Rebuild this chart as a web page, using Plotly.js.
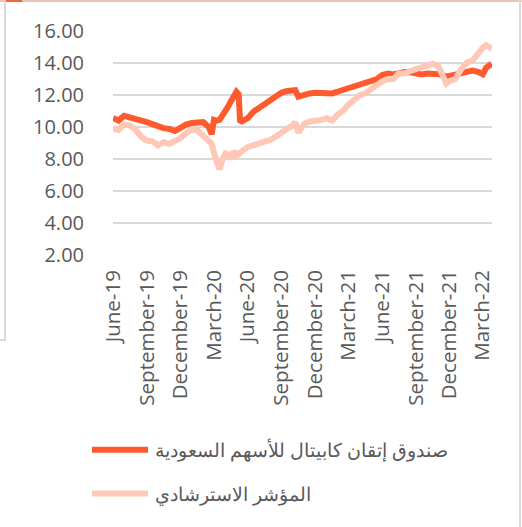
<!DOCTYPE html>
<html><head><meta charset="utf-8">
<script src="https://cdn.plot.ly/plotly-3.0.1.min.js"></script>
<style>
html,body{margin:0;padding:0;background:#fff;}
#wrap{position:relative;width:522px;height:527px;overflow:hidden;}
#chart{width:522px;height:527px;}
.deco{position:absolute;}
</style></head><body>
<div id="wrap"><div id="chart"></div>
<div class="deco" style="left:0;top:0;width:522px;height:2px;background:#E8C3BA"></div>
<div class="deco" style="left:6px;top:0;width:16px;height:2px;background:#F0643C"></div>
<div class="deco" style="left:4px;top:2px;width:2px;height:338px;background:#DADADA"></div>
<div class="deco" style="left:0;top:339px;width:6px;height:2px;background:#DADADA"></div>
<div class="deco" style="left:519px;top:0;width:2px;height:527px;background:#DADADA"></div>
</div>
<script>
const dates = ['2019-06-01','2019-06-16','2019-07-01','2019-07-16','2019-08-01','2019-08-16','2019-09-01','2019-09-16',
'2019-10-01','2019-10-16','2019-11-01','2019-11-16','2019-12-01','2019-12-16','2020-01-01','2020-01-16','2020-02-01',
'2020-02-16','2020-02-24','2020-03-01','2020-03-08','2020-03-16','2020-03-24','2020-04-01','2020-04-08','2020-04-16',
'2020-04-24','2020-05-01','2020-05-07','2020-05-11','2020-05-16','2020-06-01','2020-06-16','2020-07-01','2020-07-16',
'2020-08-01','2020-08-16','2020-09-01','2020-09-16','2020-10-01','2020-10-08','2020-10-16','2020-11-01','2020-11-16',
'2020-12-01','2020-12-16','2021-01-01','2021-01-16','2021-02-01','2021-02-16','2021-03-01','2021-03-16','2021-04-01',
'2021-04-16','2021-05-01','2021-05-16','2021-06-01','2021-06-16','2021-07-01','2021-07-16','2021-08-01','2021-08-16',
'2021-09-01','2021-09-16','2021-10-01','2021-10-16','2021-11-01','2021-11-16','2021-11-22','2021-12-01','2021-12-16',
'2022-01-01','2022-01-16','2022-02-01','2022-02-16','2022-03-01','2022-03-10','2022-03-20','2022-03-25'];

const fundValues = [10.56,10.40,10.70,10.62,10.52,10.40,10.30,10.18,
10.02,9.93,9.88,9.75,9.95,10.15,10.25,10.30,10.30,
10.00,9.55,10.45,10.40,10.45,10.70,11.05,11.25,11.60,
11.95,12.20,12.05,10.40,10.35,10.55,10.95,11.20,11.40,
11.65,11.95,12.15,12.25,12.30,12.30,11.90,12.05,12.10,
12.14,12.14,12.18,12.10,12.22,12.33,12.38,12.50,12.65,
12.77,12.82,12.98,13.25,13.34,13.28,13.40,13.44,13.42,
13.34,13.28,13.34,13.34,13.30,13.20,13.15,13.20,13.30,
13.40,13.48,13.53,13.45,13.30,13.70,13.90,13.95];

const benchValues = [9.91,9.82,10.15,10.10,9.85,9.40,9.15,9.10,
8.85,9.05,8.95,9.10,9.30,9.60,9.85,9.80,9.45,
9.10,8.95,8.40,7.75,7.35,7.95,8.35,8.30,8.00,
8.50,8.20,8.30,8.35,8.50,8.75,8.85,8.98,9.10,
9.20,9.40,9.70,9.90,10.10,10.30,9.65,10.20,10.35,
10.37,10.43,10.55,10.40,10.80,11.05,11.40,11.75,11.99,
12.10,12.33,12.65,12.85,13.00,13.00,13.35,13.36,13.50,
13.60,13.68,13.78,13.95,13.78,13.15,12.72,12.88,13.00,
13.60,14.02,14.15,14.60,14.95,15.10,15.00,14.90];

const tickDates = ['2019-06-01','2019-09-01','2019-12-01','2020-03-01','2020-06-01','2020-09-01',
'2020-12-01','2021-03-01','2021-06-01','2021-09-01','2021-12-01','2022-03-01'];
const tickLabels = ['June-19','September-19','December-19','March-20','June-20','September-20',
'December-20','March-21','June-21','September-21','December-21','March-22'];
const yTicks = [2,4,6,8,10,12,14,16];
const yTickLabels = ['2.00','4.00','6.00','8.00','10.00','12.00','14.00','16.00'];
const fundName = 'صندوق إتقان كابيتال للأسهم السعودية';
const benchName = 'المؤشر الاسترشادي';

const traces = [
  {x: dates, y: fundValues, name: fundName, type: 'scatter', mode: 'lines',
   line: {color: '#FF5A2D', width: 6}, legendgroup: 'a'},
  {x: dates, y: benchValues, name: benchName, type: 'scatter', mode: 'lines',
   line: {color: '#FFC7B6', width: 6}, legendgroup: 'b'}
];

const layout = {
  width: 522, height: 527,
  margin: {l: 113, r: 30, t: 31, b: 272},
  paper_bgcolor: '#fff', plot_bgcolor: '#fff',
  font: {family: 'Open Sans, sans-serif', color: '#595959', size: 19},
  xaxis: {type: 'date', range: ['2019-06-01', '2022-03-26'], tickmode: 'array',
    tickvals: tickDates, ticktext: tickLabels, tickangle: -90, showgrid: false,
    zeroline: false, showline: false, ticks: '', ticklabelstandoff: 10,
    tickfont: {size: 20.5, color: '#595959'}},
  yaxis: {range: [2, 16], tickmode: 'array', tickvals: yTicks, ticktext: yTickLabels,
    showgrid: true, gridcolor: '#D9D9D9', gridwidth: 1.5, zeroline: false, showline: false,
    ticks: '', ticklabelstandoff: 28, tickfont: {size: 20, color: '#595959'}},
  showlegend: true,
  legend: {x: -0.0686, xanchor: 'left', y: -0.785, yanchor: 'top', traceorder: 'grouped',
    itemwidth: 58, tracegroupgap: 16, font: {size: 19, color: '#595959'}, bgcolor: 'rgba(0,0,0,0)'},
};

Plotly.newPlot('chart', traces, layout, {displayModeBar: false, staticPlot: true}).then(function (gd) {
  // lengthen the legend line samples to match the reference's wider swatches
  gd.querySelectorAll('.legend .legendlines path').forEach(function (p) {
    p.setAttribute('d', 'M5,0h56');
  });
});
</script>
</body></html>
